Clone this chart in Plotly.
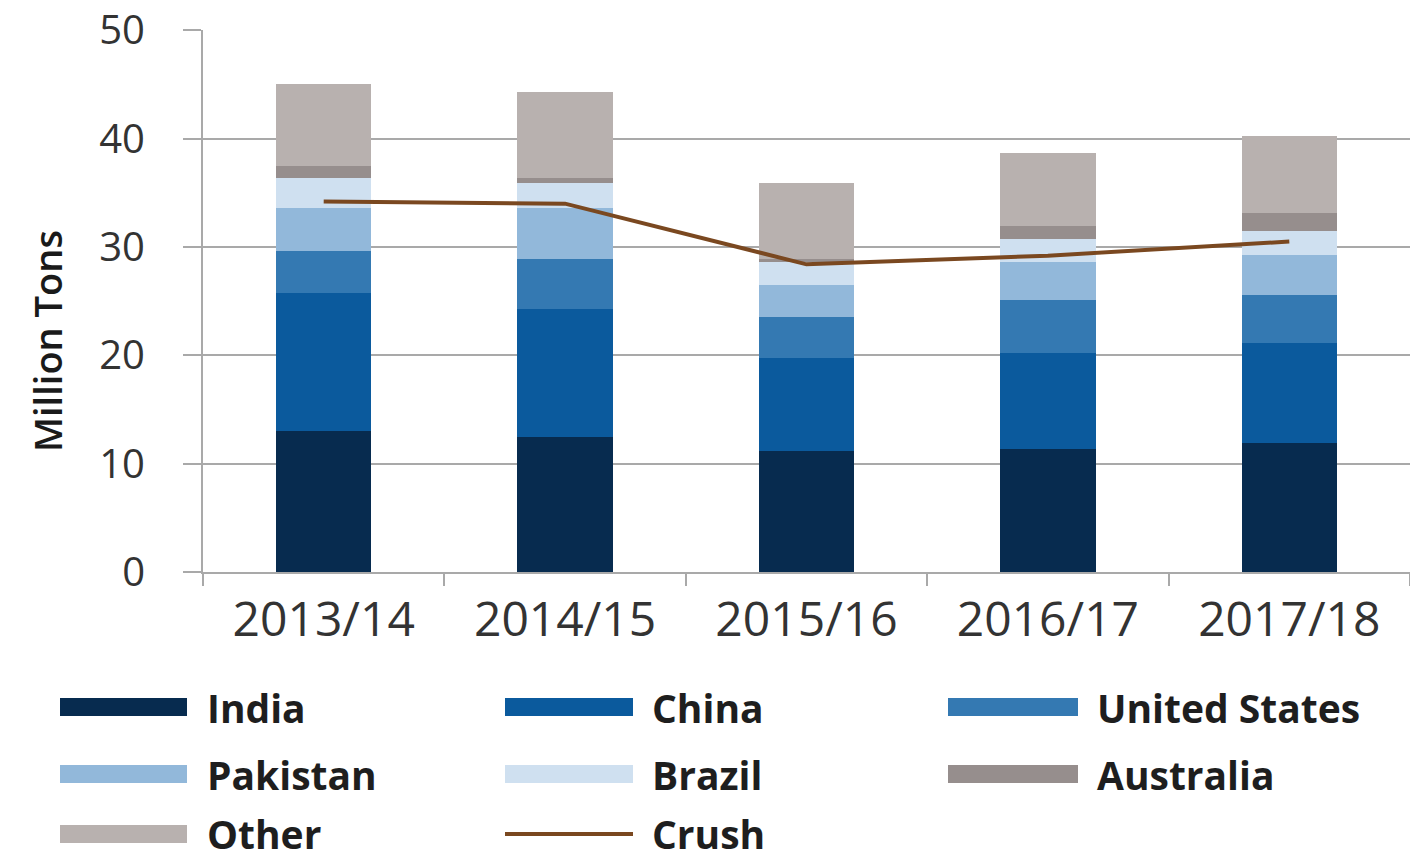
import plotly.graph_objects as go

years = ["2013/14", "2014/15", "2015/16", "2016/17", "2017/18"]
india = [13.0, 12.5, 11.2, 11.4, 11.9]
china = [12.8, 11.8, 8.6, 8.8, 9.2]
united_states = [3.8, 4.6, 3.7, 4.9, 4.5]
pakistan = [4.0, 4.7, 3.0, 3.5, 3.7]
brazil = [2.8, 2.3, 2.1, 2.1, 2.2]
australia = [1.1, 0.5, 0.3, 1.2, 1.6]
other = [7.5, 7.9, 7.0, 6.8, 7.1]
crush = [34.2, 34.0, 28.4, 29.2, 30.5]

series = [
    ("India", india, "#072b4f"),
    ("China", china, "#0b5a9d"),
    ("United States", united_states, "#3479b2"),
    ("Pakistan", pakistan, "#92b8da"),
    ("Brazil", brazil, "#cfe0f0"),
    ("Australia", australia, "#968e8d"),
    ("Other", other, "#b8b1af"),
]
crush_color = "#7a4820"

W, H = 1410, 859
L, R, T = 203, 0, 30
B = H - 572
pw, ph = W - L - R, H - T - B

def px(x):  # pixel x -> paper
    return (x - L) / pw

def py(y):  # pixel y -> paper
    return (H - B - y) / ph

fig = go.Figure()
for name, vals, col in series:
    fig.add_trace(go.Bar(x=years, y=vals, name=name, marker=dict(color=col, line=dict(width=0)),
                         showlegend=False))
fig.add_trace(go.Scatter(x=years, y=crush, name="Crush", mode="lines",
                         line=dict(color=crush_color, width=4), showlegend=False))

font_family = "'Open Sans', Roboto, 'DejaVu Sans', sans-serif"

# custom legend (wide swatches as in the reference)
legend_items = [(s[0], s[2], "bar") for s in series] + [("Crush", crush_color, "line")]
col_x = [(60, 187, 205), (505, 633, 650), (948, 1078, 1095)]
row_y = [707, 774, 834]
shapes = []
annotations = []
for i, (name, col, kind) in enumerate(legend_items):
    r, c = divmod(i, 3)
    x0, x1, tx = col_x[c]
    yc = row_y[r]
    if kind == "bar":
        shapes.append(dict(type="rect", xref="paper", yref="paper",
                           x0=px(x0), x1=px(x1), y0=py(yc - 9), y1=py(yc + 9),
                           fillcolor=col, line=dict(width=0)))
    else:
        shapes.append(dict(type="line", xref="paper", yref="paper",
                           x0=px(x0), x1=px(x1), y0=py(yc), y1=py(yc),
                           line=dict(color=col, width=4)))
    annotations.append(dict(text=name, xref="paper", yref="paper", x=px(tx), y=py(yc),
                            xanchor="left", yanchor="middle", showarrow=False,
                            font=dict(family=font_family, size=39, color="#1e1e1e", weight="bold")))

annotations.append(dict(text="Million Tons", xref="paper", yref="paper", x=px(47), y=py(341),
                        xanchor="center", yanchor="middle", textangle=-90, showarrow=False,
                        font=dict(family=font_family, size=38, color="#1a1a1a", weight=600)))

fig.update_layout(
    width=W, height=H,
    margin=dict(l=L, r=R, t=T, b=B, pad=0, autoexpand=False),
    barmode="stack",
    bargap=0.605,
    plot_bgcolor="white", paper_bgcolor="white",
    shapes=shapes,
    annotations=annotations,
    font=dict(family=font_family),
)
fig.update_xaxes(
    type="category", showgrid=False, showline=True, linecolor="#a9a9a9", linewidth=2,
    ticks="outside", tickson="boundaries", ticklen=12, tickwidth=2, tickcolor="#a9a9a9",
    tickfont=dict(family=font_family, size=48, color="#333333"),
    ticklabelstandoff=4, automargin=False,
)
fig.update_yaxes(
    range=[0, 50.03], tickvals=[0, 10, 20, 30, 40, 50], showgrid=True, gridcolor="#a9a9a9", gridwidth=2,
    zeroline=False, showline=True, linecolor="#a9a9a9", linewidth=2,
    ticks="outside", ticklen=18, tickwidth=2, tickcolor="#a9a9a9",
    tickfont=dict(family=font_family, size=40, color="#333333"),
    ticklabelstandoff=30, ticklabeloverflow="allow", automargin=False,
)

fig.write_html("out.html", config={"displayModeBar": False},
               post_script="document.body.style.margin='0px';")
